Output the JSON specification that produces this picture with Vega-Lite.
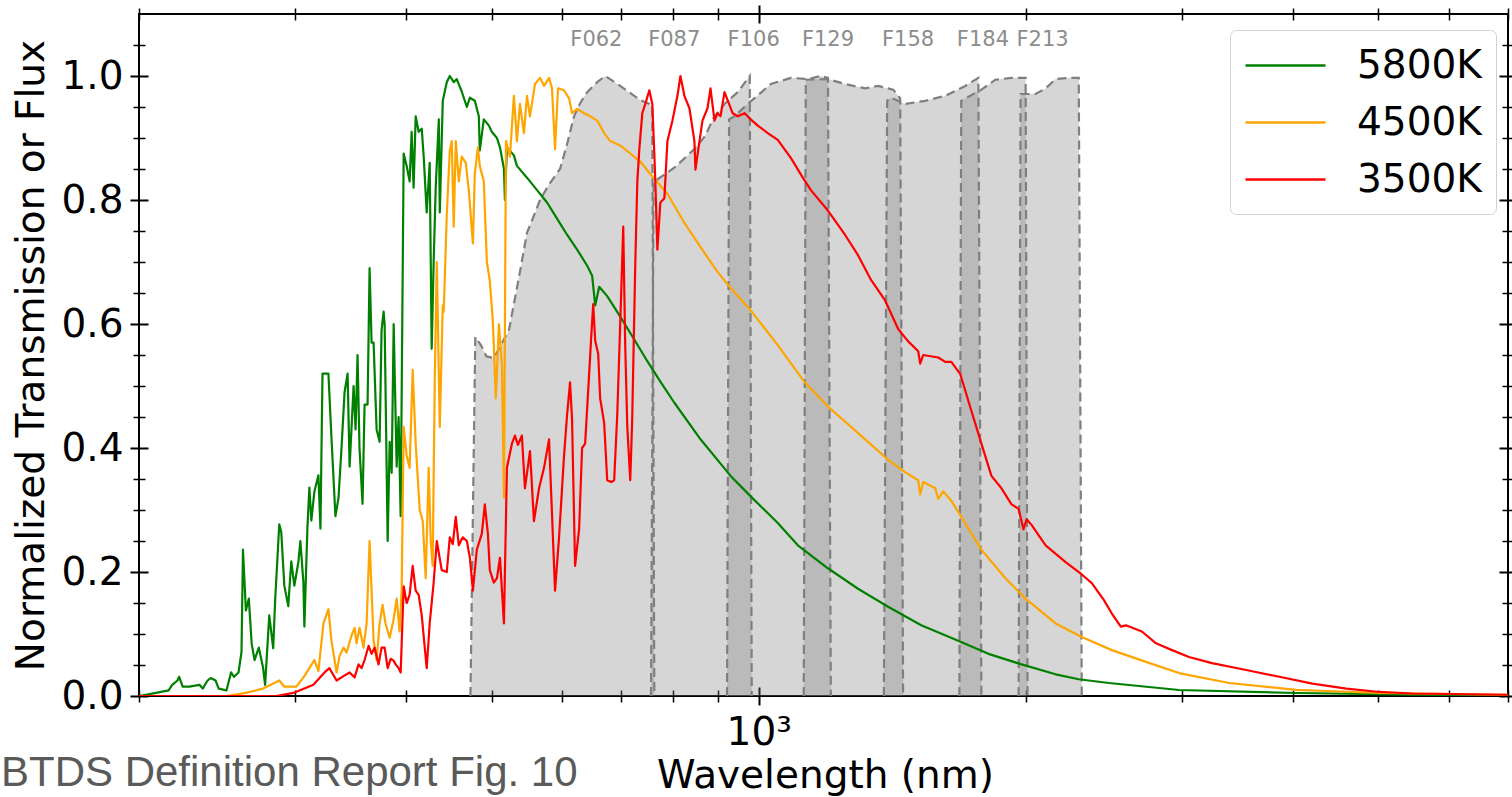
{
  "$schema": "https://vega.github.io/schema/vega-lite/v6.json",
  "width": 1369,
  "height": 682,
  "autosize": {"type": "none"},
  "padding": {"left": 139, "top": 14, "right": 4, "bottom": 101},
  "background": "white",
  "config": {
    "view": {"stroke": "black", "strokeWidth": 2},
    "font": "DejaVu Sans",
    "axis": {
      "domain": false, "grid": false, "tickColor": "black", "labelColor": "black",
      "titleColor": "black", "labelFont": "DejaVu Sans", "titleFont": "DejaVu Sans",
      "titleFontWeight": "normal", "labelFontSize": 39, "titleFontSize": 39
    }
  },
  "title": {
    "text": "BTDS Definition Report Fig. 10",
    "orient": "bottom", "anchor": "start", "frame": "bounds",
    "font": "Liberation Sans", "fontSize": 42, "fontWeight": "normal", "color": "#5a5a5a",
    "baseline": "alphabetic", "offset": 0, "dx": -11, "dy": -9
  },
  "resolve": {"axis": {"x": "independent", "y": "independent"}},
  "datasets": {
    "bands": [
      {"band": "F062", "w": 473, "t": 0}, {"band": "F062", "w": 479, "t": 0.579}, {"band": "F062", "w": 486, "t": 0.566},
      {"band": "F062", "w": 493, "t": 0.548}, {"band": "F062", "w": 502.6, "t": 0.545}, {"band": "F062", "w": 522.7, "t": 0.59},
      {"band": "F062", "w": 537.9, "t": 0.684}, {"band": "F062", "w": 547.8, "t": 0.747}, {"band": "F062", "w": 557.8, "t": 0.775},
      {"band": "F062", "w": 566.7, "t": 0.8}, {"band": "F062", "w": 580, "t": 0.825}, {"band": "F062", "w": 596.9, "t": 0.85},
      {"band": "F062", "w": 607.9, "t": 0.89}, {"band": "F062", "w": 619, "t": 0.935}, {"band": "F062", "w": 628.9, "t": 0.956},
      {"band": "F062", "w": 640.5, "t": 0.974}, {"band": "F062", "w": 657.4, "t": 0.99}, {"band": "F062", "w": 671.2, "t": 1.0},
      {"band": "F062", "w": 697.9, "t": 0.984}, {"band": "F062", "w": 735.3, "t": 0.961}, {"band": "F062", "w": 752.7, "t": 0.955},
      {"band": "F062", "w": 758.5, "t": 0.95}, {"band": "F062", "w": 762.5, "t": 0},
      {"band": "F087", "w": 756, "t": 0}, {"band": "F087", "w": 761, "t": 0.829}, {"band": "F087", "w": 803, "t": 0.852},
      {"band": "F087", "w": 846, "t": 0.882}, {"band": "F087", "w": 869, "t": 0.902}, {"band": "F087", "w": 891.5, "t": 0.935},
      {"band": "F087", "w": 915, "t": 0.955}, {"band": "F087", "w": 947, "t": 0.974}, {"band": "F087", "w": 977, "t": 1.0},
      {"band": "F087", "w": 982, "t": 0},
      {"band": "F106", "w": 921, "t": 0}, {"band": "F106", "w": 926, "t": 0.93}, {"band": "F106", "w": 939, "t": 0.935},
      {"band": "F106", "w": 972, "t": 0.955}, {"band": "F106", "w": 1032, "t": 0.987}, {"band": "F106", "w": 1087, "t": 0.997},
      {"band": "F106", "w": 1136, "t": 0.995}, {"band": "F106", "w": 1175, "t": 1.0}, {"band": "F106", "w": 1197, "t": 0.997},
      {"band": "F106", "w": 1206, "t": 0},
      {"band": "F129", "w": 1124, "t": 0}, {"band": "F129", "w": 1130, "t": 0.994}, {"band": "F129", "w": 1197, "t": 0.995},
      {"band": "F129", "w": 1251, "t": 0.987}, {"band": "F129", "w": 1318, "t": 0.98}, {"band": "F129", "w": 1363, "t": 0.984},
      {"band": "F129", "w": 1418, "t": 0.978}, {"band": "F129", "w": 1444, "t": 0.964}, {"band": "F129", "w": 1455, "t": 0},
      {"band": "F158", "w": 1384, "t": 0}, {"band": "F158", "w": 1396, "t": 0.96}, {"band": "F158", "w": 1410, "t": 0.965},
      {"band": "F158", "w": 1463, "t": 0.955}, {"band": "F158", "w": 1541, "t": 0.96}, {"band": "F158", "w": 1623, "t": 0.968},
      {"band": "F158", "w": 1710, "t": 0.984}, {"band": "F158", "w": 1769, "t": 0.997}, {"band": "F158", "w": 1783, "t": 0},
      {"band": "F184", "w": 1684, "t": 0}, {"band": "F184", "w": 1692, "t": 0.96}, {"band": "F184", "w": 1783, "t": 0.978},
      {"band": "F184", "w": 1849, "t": 0.994}, {"band": "F184", "w": 1928, "t": 0.997}, {"band": "F184", "w": 2000, "t": 0.997},
      {"band": "F184", "w": 2010, "t": 0},
      {"band": "F213", "w": 1964, "t": 0}, {"band": "F213", "w": 1974, "t": 0.971}, {"band": "F213", "w": 2052, "t": 0.971},
      {"band": "F213", "w": 2107, "t": 0.98}, {"band": "F213", "w": 2162, "t": 0.995}, {"band": "F213", "w": 2237, "t": 0.997},
      {"band": "F213", "w": 2296, "t": 0.997}, {"band": "F213", "w": 2314, "t": 0}
    ],
    "bandNames": [
      {"band": "F062", "w": 656, "t": 1.058}, {"band": "F087", "w": 803, "t": 1.058}, {"band": "F106", "w": 987, "t": 1.058},
      {"band": "F129", "w": 1197, "t": 1.058}, {"band": "F158", "w": 1474, "t": 1.058}, {"band": "F184", "w": 1790, "t": 1.058},
      {"band": "F213", "w": 2090, "t": 1.058}
    ],
    "spectra": [
      {"star": "5800K", "w": 200, "f": 0}, {"star": "5800K", "w": 209, "f": 0.005}, {"star": "5800K", "w": 216, "f": 0.009},
      {"star": "5800K", "w": 218, "f": 0.018}, {"star": "5800K", "w": 221, "f": 0.025}, {"star": "5800K", "w": 222, "f": 0.031},
      {"star": "5800K", "w": 224, "f": 0.015}, {"star": "5800K", "w": 228, "f": 0.015}, {"star": "5800K", "w": 234, "f": 0.018},
      {"star": "5800K", "w": 236, "f": 0.012}, {"star": "5800K", "w": 239, "f": 0.025}, {"star": "5800K", "w": 241, "f": 0.029},
      {"star": "5800K", "w": 244, "f": 0.025}, {"star": "5800K", "w": 246, "f": 0.012}, {"star": "5800K", "w": 251, "f": 0.009},
      {"star": "5800K", "w": 254, "f": 0.038}, {"star": "5800K", "w": 256, "f": 0.031}, {"star": "5800K", "w": 259, "f": 0.038},
      {"star": "5800K", "w": 261, "f": 0.071}, {"star": "5800K", "w": 262, "f": 0.236}, {"star": "5800K", "w": 264, "f": 0.138},
      {"star": "5800K", "w": 266, "f": 0.157}, {"star": "5800K", "w": 268, "f": 0.084}, {"star": "5800K", "w": 270, "f": 0.058},
      {"star": "5800K", "w": 273, "f": 0.078}, {"star": "5800K", "w": 276, "f": 0.046}, {"star": "5800K", "w": 277.5, "f": 0.018},
      {"star": "5800K", "w": 280.5, "f": 0.13}, {"star": "5800K", "w": 283.4, "f": 0.077}, {"star": "5800K", "w": 284.9, "f": 0.157},
      {"star": "5800K", "w": 287.9, "f": 0.277}, {"star": "5800K", "w": 289.4, "f": 0.264}, {"star": "5800K", "w": 291.7, "f": 0.178},
      {"star": "5800K", "w": 294.7, "f": 0.145}, {"star": "5800K", "w": 297, "f": 0.217}, {"star": "5800K", "w": 299.4, "f": 0.178},
      {"star": "5800K", "w": 302.6, "f": 0.217}, {"star": "5800K", "w": 304.1, "f": 0.25}, {"star": "5800K", "w": 306.5, "f": 0.184},
      {"star": "5800K", "w": 307.3, "f": 0.112}, {"star": "5800K", "w": 309.7, "f": 0.27}, {"star": "5800K", "w": 311.3, "f": 0.336},
      {"star": "5800K", "w": 312.9, "f": 0.283}, {"star": "5800K", "w": 315.4, "f": 0.33}, {"star": "5800K", "w": 318.7, "f": 0.356},
      {"star": "5800K", "w": 320.4, "f": 0.27}, {"star": "5800K", "w": 322.1, "f": 0.52}, {"star": "5800K", "w": 323.8, "f": 0.52},
      {"star": "5800K", "w": 327.1, "f": 0.52}, {"star": "5800K", "w": 329.6, "f": 0.42}, {"star": "5800K", "w": 333.1, "f": 0.29},
      {"star": "5800K", "w": 335.8, "f": 0.32}, {"star": "5800K", "w": 338.4, "f": 0.4}, {"star": "5800K", "w": 341.1, "f": 0.49},
      {"star": "5800K", "w": 343.8, "f": 0.52}, {"star": "5800K", "w": 345.6, "f": 0.37}, {"star": "5800K", "w": 349.2, "f": 0.5},
      {"star": "5800K", "w": 351, "f": 0.43}, {"star": "5800K", "w": 352.8, "f": 0.55}, {"star": "5800K", "w": 354.6, "f": 0.4},
      {"star": "5800K", "w": 357.4, "f": 0.31}, {"star": "5800K", "w": 359.3, "f": 0.47}, {"star": "5800K", "w": 362.1, "f": 0.47},
      {"star": "5800K", "w": 364, "f": 0.69}, {"star": "5800K", "w": 365.9, "f": 0.57}, {"star": "5800K", "w": 367.8, "f": 0.57},
      {"star": "5800K", "w": 370.7, "f": 0.43}, {"star": "5800K", "w": 373.6, "f": 0.41}, {"star": "5800K", "w": 375.5, "f": 0.59},
      {"star": "5800K", "w": 377.5, "f": 0.62}, {"star": "5800K", "w": 378.5, "f": 0.6}, {"star": "5800K", "w": 381.5, "f": 0.25},
      {"star": "5800K", "w": 383.5, "f": 0.41}, {"star": "5800K", "w": 385.5, "f": 0.36}, {"star": "5800K", "w": 387.5, "f": 0.6},
      {"star": "5800K", "w": 390.5, "f": 0.37}, {"star": "5800K", "w": 392.5, "f": 0.45}, {"star": "5800K", "w": 394.6, "f": 0.29},
      {"star": "5800K", "w": 397.7, "f": 0.875}, {"star": "5800K", "w": 400.8, "f": 0.855}, {"star": "5800K", "w": 403.9, "f": 0.83},
      {"star": "5800K", "w": 406, "f": 0.91}, {"star": "5800K", "w": 408.1, "f": 0.82}, {"star": "5800K", "w": 410.3, "f": 0.935},
      {"star": "5800K", "w": 413.5, "f": 0.91}, {"star": "5800K", "w": 416.8, "f": 0.915}, {"star": "5800K", "w": 418.9, "f": 0.87},
      {"star": "5800K", "w": 422.2, "f": 0.78}, {"star": "5800K", "w": 425.5, "f": 0.86}, {"star": "5800K", "w": 427.7, "f": 0.56},
      {"star": "5800K", "w": 429.9, "f": 0.7}, {"star": "5800K", "w": 432.2, "f": 0.82}, {"star": "5800K", "w": 435.7, "f": 0.93},
      {"star": "5800K", "w": 436.8, "f": 0.78}, {"star": "5800K", "w": 440.2, "f": 0.96}, {"star": "5800K", "w": 444.8, "f": 0.99},
      {"star": "5800K", "w": 448.3, "f": 1.0}, {"star": "5800K", "w": 452.9, "f": 0.99}, {"star": "5800K", "w": 456.5, "f": 0.995},
      {"star": "5800K", "w": 462.4, "f": 0.975}, {"star": "5800K", "w": 468.6, "f": 0.95}, {"star": "5800K", "w": 472.3, "f": 0.965},
      {"star": "5800K", "w": 478.4, "f": 0.96}, {"star": "5800K", "w": 483.4, "f": 0.935}, {"star": "5800K", "w": 484.6, "f": 0.88},
      {"star": "5800K", "w": 489.7, "f": 0.93}, {"star": "5800K", "w": 496.2, "f": 0.92}, {"star": "5800K", "w": 500, "f": 0.91},
      {"star": "5800K", "w": 506.7, "f": 0.9}, {"star": "5800K", "w": 510.7, "f": 0.885}, {"star": "5800K", "w": 516, "f": 0.85},
      {"star": "5800K", "w": 517.3, "f": 0.8}, {"star": "5800K", "w": 520, "f": 0.885}, {"star": "5800K", "w": 529.5, "f": 0.872},
      {"star": "5800K", "w": 533.7, "f": 0.855}, {"star": "5800K", "w": 547.8, "f": 0.836}, {"star": "5800K", "w": 562.3, "f": 0.816},
      {"star": "5800K", "w": 577.1, "f": 0.796}, {"star": "5800K", "w": 592.3, "f": 0.77}, {"star": "5800K", "w": 607.9, "f": 0.744},
      {"star": "5800K", "w": 624, "f": 0.72}, {"star": "5800K", "w": 640.5, "f": 0.694}, {"star": "5800K", "w": 648.8, "f": 0.678},
      {"star": "5800K", "w": 654, "f": 0.63}, {"star": "5800K", "w": 660.8, "f": 0.66}, {"star": "5800K", "w": 674.7, "f": 0.645},
      {"star": "5800K", "w": 697.9, "f": 0.612}, {"star": "5800K", "w": 723.8, "f": 0.575}, {"star": "5800K", "w": 748.8, "f": 0.54},
      {"star": "5800K", "w": 774.6, "f": 0.507}, {"star": "5800K", "w": 803.3, "f": 0.473}, {"star": "5800K", "w": 859.7, "f": 0.414},
      {"star": "5800K", "w": 929.6, "f": 0.355}, {"star": "5800K", "w": 979.4, "f": 0.322}, {"star": "5800K", "w": 1050.7, "f": 0.279},
      {"star": "5800K", "w": 1106.9, "f": 0.243}, {"star": "5800K", "w": 1196.8, "f": 0.206}, {"star": "5800K", "w": 1294.2, "f": 0.173},
      {"star": "5800K", "w": 1399.4, "f": 0.144}, {"star": "5800K", "w": 1525, "f": 0.114}, {"star": "5800K", "w": 1666, "f": 0.091},
      {"star": "5800K", "w": 1816, "f": 0.068}, {"star": "5800K", "w": 1979, "f": 0.051}, {"star": "5800K", "w": 2162, "f": 0.035},
      {"star": "5800K", "w": 2296, "f": 0.027}, {"star": "5800K", "w": 2483, "f": 0.021}, {"star": "5800K", "w": 2979, "f": 0.0097},
      {"star": "5800K", "w": 4039, "f": 0.0048}, {"star": "5800K", "w": 5466, "f": 0.0022}, {"star": "5800K", "w": 7000, "f": 0.001},

      {"star": "4500K", "w": 200, "f": 0}, {"star": "4500K", "w": 251, "f": 0}, {"star": "4500K", "w": 264, "f": 0.005},
      {"star": "4500K", "w": 276, "f": 0.012}, {"star": "4500K", "w": 288, "f": 0.025}, {"star": "4500K", "w": 291.7, "f": 0.015},
      {"star": "4500K", "w": 301, "f": 0.015}, {"star": "4500K", "w": 307.3, "f": 0.032}, {"star": "4500K", "w": 311.3, "f": 0.045},
      {"star": "4500K", "w": 315.4, "f": 0.058}, {"star": "4500K", "w": 318.7, "f": 0.04}, {"star": "4500K", "w": 322.9, "f": 0.117},
      {"star": "4500K", "w": 327.1, "f": 0.14}, {"star": "4500K", "w": 329.6, "f": 0.09}, {"star": "4500K", "w": 334.1, "f": 0.038},
      {"star": "4500K", "w": 336.7, "f": 0.065}, {"star": "4500K", "w": 340.2, "f": 0.078}, {"star": "4500K", "w": 342.9, "f": 0.07},
      {"star": "4500K", "w": 347.4, "f": 0.098}, {"star": "4500K", "w": 350.1, "f": 0.11}, {"star": "4500K", "w": 351.9, "f": 0.085},
      {"star": "4500K", "w": 354.6, "f": 0.11}, {"star": "4500K", "w": 358.3, "f": 0.078}, {"star": "4500K", "w": 361.2, "f": 0.117},
      {"star": "4500K", "w": 364, "f": 0.25}, {"star": "4500K", "w": 365.9, "f": 0.17}, {"star": "4500K", "w": 367.8, "f": 0.09},
      {"star": "4500K", "w": 370.7, "f": 0.058}, {"star": "4500K", "w": 373.6, "f": 0.117}, {"star": "4500K", "w": 376.5, "f": 0.147},
      {"star": "4500K", "w": 379.4, "f": 0.117}, {"star": "4500K", "w": 383.5, "f": 0.094}, {"star": "4500K", "w": 387.5, "f": 0.124},
      {"star": "4500K", "w": 390.5, "f": 0.157}, {"star": "4500K", "w": 393.5, "f": 0.104}, {"star": "4500K", "w": 395.6, "f": 0.17},
      {"star": "4500K", "w": 397.7, "f": 0.434}, {"star": "4500K", "w": 400.8, "f": 0.388}, {"star": "4500K", "w": 403.9, "f": 0.368},
      {"star": "4500K", "w": 407.1, "f": 0.526}, {"star": "4500K", "w": 410.3, "f": 0.407}, {"star": "4500K", "w": 414.6, "f": 0.3},
      {"star": "4500K", "w": 417.9, "f": 0.282}, {"star": "4500K", "w": 421.1, "f": 0.19}, {"star": "4500K", "w": 424.4, "f": 0.368},
      {"star": "4500K", "w": 426.6, "f": 0.25}, {"star": "4500K", "w": 428.8, "f": 0.21}, {"star": "4500K", "w": 431.1, "f": 0.506},
      {"star": "4500K", "w": 433.4, "f": 0.7}, {"star": "4500K", "w": 436.8, "f": 0.434}, {"star": "4500K", "w": 440.2, "f": 0.63},
      {"star": "4500K", "w": 441.3, "f": 0.62}, {"star": "4500K", "w": 444.8, "f": 0.777}, {"star": "4500K", "w": 448.3, "f": 0.88},
      {"star": "4500K", "w": 450.6, "f": 0.895}, {"star": "4500K", "w": 452.9, "f": 0.757}, {"star": "4500K", "w": 455.3, "f": 0.895},
      {"star": "4500K", "w": 458.9, "f": 0.83}, {"star": "4500K", "w": 462.4, "f": 0.87}, {"star": "4500K", "w": 467.3, "f": 0.86},
      {"star": "4500K", "w": 471, "f": 0.816}, {"star": "4500K", "w": 476, "f": 0.73}, {"star": "4500K", "w": 478.4, "f": 0.842},
      {"star": "4500K", "w": 482.2, "f": 0.885}, {"star": "4500K", "w": 484.6, "f": 0.855}, {"star": "4500K", "w": 489.7, "f": 0.83},
      {"star": "4500K", "w": 493.6, "f": 0.7}, {"star": "4500K", "w": 497.4, "f": 0.67}, {"star": "4500K", "w": 501.3, "f": 0.605},
      {"star": "4500K", "w": 505.2, "f": 0.48}, {"star": "4500K", "w": 509.3, "f": 0.6}, {"star": "4500K", "w": 513.3, "f": 0.533},
      {"star": "4500K", "w": 516, "f": 0.32}, {"star": "4500K", "w": 518.7, "f": 0.895}, {"star": "4500K", "w": 524.1, "f": 0.87},
      {"star": "4500K", "w": 529.5, "f": 0.968}, {"star": "4500K", "w": 533.7, "f": 0.895}, {"star": "4500K", "w": 537.9, "f": 0.955},
      {"star": "4500K", "w": 543.5, "f": 0.908}, {"star": "4500K", "w": 547.8, "f": 0.968}, {"star": "4500K", "w": 552.1, "f": 0.935},
      {"star": "4500K", "w": 559.3, "f": 0.987}, {"star": "4500K", "w": 566.7, "f": 0.997}, {"star": "4500K", "w": 572.6, "f": 0.984},
      {"star": "4500K", "w": 580.1, "f": 0.997}, {"star": "4500K", "w": 584.6, "f": 0.98}, {"star": "4500K", "w": 589.2, "f": 0.882},
      {"star": "4500K", "w": 593.8, "f": 0.98}, {"star": "4500K", "w": 603.1, "f": 0.977}, {"star": "4500K", "w": 611.1, "f": 0.964},
      {"star": "4500K", "w": 615.8, "f": 0.94}, {"star": "4500K", "w": 624, "f": 0.947}, {"star": "4500K", "w": 635.4, "f": 0.94},
      {"star": "4500K", "w": 645.5, "f": 0.935}, {"star": "4500K", "w": 657.4, "f": 0.928}, {"star": "4500K", "w": 669.4, "f": 0.908},
      {"star": "4500K", "w": 680, "f": 0.895}, {"star": "4500K", "w": 697.9, "f": 0.888}, {"star": "4500K", "w": 716.3, "f": 0.875},
      {"star": "4500K", "w": 735.3, "f": 0.862}, {"star": "4500K", "w": 754.6, "f": 0.842}, {"star": "4500K", "w": 774.6, "f": 0.823},
      {"star": "4500K", "w": 788.9, "f": 0.81}, {"star": "4500K", "w": 824.5, "f": 0.763}, {"star": "4500K", "w": 859.7, "f": 0.724},
      {"star": "4500K", "w": 898.6, "f": 0.684}, {"star": "4500K", "w": 929.6, "f": 0.658}, {"star": "4500K", "w": 979.4, "f": 0.622},
      {"star": "4500K", "w": 1050.7, "f": 0.566}, {"star": "4500K", "w": 1127, "f": 0.506}, {"star": "4500K", "w": 1196.8, "f": 0.467},
      {"star": "4500K", "w": 1304, "f": 0.42}, {"star": "4500K", "w": 1399.4, "f": 0.381}, {"star": "4500K", "w": 1462.7, "f": 0.361},
      {"star": "4500K", "w": 1513, "f": 0.348}, {"star": "4500K", "w": 1521, "f": 0.325}, {"star": "4500K", "w": 1533, "f": 0.345},
      {"star": "4500K", "w": 1581.6, "f": 0.335}, {"star": "4500K", "w": 1594, "f": 0.318}, {"star": "4500K", "w": 1615, "f": 0.33},
      {"star": "4500K", "w": 1649, "f": 0.315}, {"star": "4500K", "w": 1692.5, "f": 0.289}, {"star": "4500K", "w": 1783, "f": 0.236},
      {"star": "4500K", "w": 1898, "f": 0.19}, {"star": "4500K", "w": 1999.7, "f": 0.157}, {"star": "4500K", "w": 2162, "f": 0.117},
      {"star": "4500K", "w": 2314, "f": 0.095}, {"star": "4500K", "w": 2502, "f": 0.074}, {"star": "4500K", "w": 2733, "f": 0.055},
      {"star": "4500K", "w": 2979, "f": 0.037}, {"star": "4500K", "w": 3393, "f": 0.021}, {"star": "4500K", "w": 4039, "f": 0.01},
      {"star": "4500K", "w": 5014, "f": 0.0048}, {"star": "4500K", "w": 7000, "f": 0.002},

      {"star": "3500K", "w": 200, "f": 0}, {"star": "3500K", "w": 285.7, "f": 0}, {"star": "3500K", "w": 298.6, "f": 0.005},
      {"star": "3500K", "w": 314.6, "f": 0.018}, {"star": "3500K", "w": 323.8, "f": 0.038}, {"star": "3500K", "w": 327.9, "f": 0.045},
      {"star": "3500K", "w": 334.1, "f": 0.025}, {"star": "3500K", "w": 340.2, "f": 0.032}, {"star": "3500K", "w": 345.6, "f": 0.038},
      {"star": "3500K", "w": 350.1, "f": 0.03}, {"star": "3500K", "w": 353.7, "f": 0.051}, {"star": "3500K", "w": 356.5, "f": 0.045},
      {"star": "3500K", "w": 359.3, "f": 0.058}, {"star": "3500K", "w": 363.1, "f": 0.081}, {"star": "3500K", "w": 365.9, "f": 0.068},
      {"star": "3500K", "w": 368.8, "f": 0.078}, {"star": "3500K", "w": 372.6, "f": 0.051}, {"star": "3500K", "w": 375.5, "f": 0.078},
      {"star": "3500K", "w": 378.5, "f": 0.078}, {"star": "3500K", "w": 381.5, "f": 0.045}, {"star": "3500K", "w": 384.5, "f": 0.06},
      {"star": "3500K", "w": 387.5, "f": 0.057}, {"star": "3500K", "w": 389.5, "f": 0.051}, {"star": "3500K", "w": 392.5, "f": 0.045},
      {"star": "3500K", "w": 394.6, "f": 0.038}, {"star": "3500K", "w": 397.7, "f": 0.177}, {"star": "3500K", "w": 400.8, "f": 0.15},
      {"star": "3500K", "w": 403.9, "f": 0.163}, {"star": "3500K", "w": 407.1, "f": 0.21}, {"star": "3500K", "w": 410.3, "f": 0.17},
      {"star": "3500K", "w": 413.5, "f": 0.163}, {"star": "3500K", "w": 416.8, "f": 0.13}, {"star": "3500K", "w": 422.2, "f": 0.045},
      {"star": "3500K", "w": 425.5, "f": 0.117}, {"star": "3500K", "w": 429.9, "f": 0.183}, {"star": "3500K", "w": 433.4, "f": 0.25},
      {"star": "3500K", "w": 439, "f": 0.203}, {"star": "3500K", "w": 444.8, "f": 0.2}, {"star": "3500K", "w": 448.3, "f": 0.256},
      {"star": "3500K", "w": 451.8, "f": 0.245}, {"star": "3500K", "w": 455.3, "f": 0.289}, {"star": "3500K", "w": 458.9, "f": 0.243},
      {"star": "3500K", "w": 463.7, "f": 0.256}, {"star": "3500K", "w": 468.6, "f": 0.25}, {"star": "3500K", "w": 472.3, "f": 0.223},
      {"star": "3500K", "w": 476, "f": 0.17}, {"star": "3500K", "w": 480.9, "f": 0.236}, {"star": "3500K", "w": 487.2, "f": 0.262},
      {"star": "3500K", "w": 491, "f": 0.309}, {"star": "3500K", "w": 494.9, "f": 0.262}, {"star": "3500K", "w": 497.4, "f": 0.203},
      {"star": "3500K", "w": 502.6, "f": 0.183}, {"star": "3500K", "w": 506.7, "f": 0.19}, {"star": "3500K", "w": 510.7, "f": 0.223},
      {"star": "3500K", "w": 516, "f": 0.117}, {"star": "3500K", "w": 520, "f": 0.368}, {"star": "3500K", "w": 526.8, "f": 0.407},
      {"star": "3500K", "w": 530.9, "f": 0.42}, {"star": "3500K", "w": 535.1, "f": 0.405}, {"star": "3500K", "w": 540.6, "f": 0.42},
      {"star": "3500K", "w": 544.9, "f": 0.335}, {"star": "3500K", "w": 552.1, "f": 0.395}, {"star": "3500K", "w": 557.8, "f": 0.282},
      {"star": "3500K", "w": 565.2, "f": 0.335}, {"star": "3500K", "w": 572.6, "f": 0.368}, {"star": "3500K", "w": 580.1, "f": 0.414},
      {"star": "3500K", "w": 589.2, "f": 0.17}, {"star": "3500K", "w": 595.4, "f": 0.256}, {"star": "3500K", "w": 603.1, "f": 0.387},
      {"star": "3500K", "w": 607.9, "f": 0.453}, {"star": "3500K", "w": 612.6, "f": 0.506}, {"star": "3500K", "w": 615.8, "f": 0.447},
      {"star": "3500K", "w": 620.7, "f": 0.21}, {"star": "3500K", "w": 627.2, "f": 0.269}, {"star": "3500K", "w": 632.1, "f": 0.4},
      {"star": "3500K", "w": 637.1, "f": 0.407}, {"star": "3500K", "w": 643.8, "f": 0.52}, {"star": "3500K", "w": 647.2, "f": 0.578},
      {"star": "3500K", "w": 650.6, "f": 0.632}, {"star": "3500K", "w": 654, "f": 0.573}, {"star": "3500K", "w": 659.1, "f": 0.552},
      {"star": "3500K", "w": 662.5, "f": 0.48}, {"star": "3500K", "w": 669.4, "f": 0.44}, {"star": "3500K", "w": 674.7, "f": 0.348},
      {"star": "3500K", "w": 681.7, "f": 0.345}, {"star": "3500K", "w": 687, "f": 0.348}, {"star": "3500K", "w": 692.5, "f": 0.453},
      {"star": "3500K", "w": 697.9, "f": 0.6}, {"star": "3500K", "w": 703.4, "f": 0.757}, {"star": "3500K", "w": 707, "f": 0.566},
      {"star": "3500K", "w": 710.8, "f": 0.434}, {"star": "3500K", "w": 716.3, "f": 0.348}, {"star": "3500K", "w": 720, "f": 0.447},
      {"star": "3500K", "w": 725.7, "f": 0.697}, {"star": "3500K", "w": 729.6, "f": 0.83}, {"star": "3500K", "w": 733.4, "f": 0.882},
      {"star": "3500K", "w": 739.1, "f": 0.94}, {"star": "3500K", "w": 744.9, "f": 0.955}, {"star": "3500K", "w": 752.7, "f": 0.977},
      {"star": "3500K", "w": 758.5, "f": 0.955}, {"star": "3500K", "w": 762.5, "f": 0.875}, {"star": "3500K", "w": 764.5, "f": 0.83},
      {"star": "3500K", "w": 768.6, "f": 0.72}, {"star": "3500K", "w": 774.6, "f": 0.796}, {"star": "3500K", "w": 782.7, "f": 0.803},
      {"star": "3500K", "w": 788.9, "f": 0.895}, {"star": "3500K", "w": 799.2, "f": 0.928}, {"star": "3500K", "w": 809.7, "f": 0.968},
      {"star": "3500K", "w": 816, "f": 1.0}, {"star": "3500K", "w": 824.5, "f": 0.968}, {"star": "3500K", "w": 835.3, "f": 0.948},
      {"star": "3500K", "w": 846.2, "f": 0.895}, {"star": "3500K", "w": 848.5, "f": 0.849}, {"star": "3500K", "w": 857.4, "f": 0.895},
      {"star": "3500K", "w": 864.1, "f": 0.928}, {"star": "3500K", "w": 875.5, "f": 0.948}, {"star": "3500K", "w": 882.3, "f": 0.98},
      {"star": "3500K", "w": 891.5, "f": 0.928}, {"star": "3500K", "w": 898.6, "f": 0.94}, {"star": "3500K", "w": 905.6, "f": 0.935},
      {"star": "3500K", "w": 915, "f": 0.974}, {"star": "3500K", "w": 922.4, "f": 0.961}, {"star": "3500K", "w": 934.4, "f": 0.94},
      {"star": "3500K", "w": 946.8, "f": 0.935}, {"star": "3500K", "w": 964.1, "f": 0.94}, {"star": "3500K", "w": 979.4, "f": 0.93},
      {"star": "3500K", "w": 997.5, "f": 0.92}, {"star": "3500K", "w": 1023.8, "f": 0.908}, {"star": "3500K", "w": 1050.7, "f": 0.897},
      {"star": "3500K", "w": 1086.9, "f": 0.868}, {"star": "3500K", "w": 1121.3, "f": 0.836}, {"star": "3500K", "w": 1145, "f": 0.816},
      {"star": "3500K", "w": 1196.8, "f": 0.783}, {"star": "3500K", "w": 1251, "f": 0.744}, {"star": "3500K", "w": 1294.2, "f": 0.711},
      {"star": "3500K", "w": 1338.7, "f": 0.671}, {"star": "3500K", "w": 1388.4, "f": 0.638}, {"star": "3500K", "w": 1436.4, "f": 0.592},
      {"star": "3500K", "w": 1474.3, "f": 0.572}, {"star": "3500K", "w": 1513.2, "f": 0.556}, {"star": "3500K", "w": 1521, "f": 0.536},
      {"star": "3500K", "w": 1533, "f": 0.55}, {"star": "3500K", "w": 1594, "f": 0.546}, {"star": "3500K", "w": 1623, "f": 0.539},
      {"star": "3500K", "w": 1649, "f": 0.539}, {"star": "3500K", "w": 1688, "f": 0.519}, {"star": "3500K", "w": 1737, "f": 0.46},
      {"star": "3500K", "w": 1783, "f": 0.407}, {"star": "3500K", "w": 1830, "f": 0.355}, {"star": "3500K", "w": 1878.5, "f": 0.335},
      {"star": "3500K", "w": 1928, "f": 0.309}, {"star": "3500K", "w": 1963.7, "f": 0.302}, {"star": "3500K", "w": 1989, "f": 0.269},
      {"star": "3500K", "w": 2005, "f": 0.285}, {"star": "3500K", "w": 2031, "f": 0.276}, {"star": "3500K", "w": 2106.6, "f": 0.243},
      {"star": "3500K", "w": 2219, "f": 0.216}, {"star": "3500K", "w": 2314, "f": 0.196}, {"star": "3500K", "w": 2375, "f": 0.182},
      {"star": "3500K", "w": 2450, "f": 0.155}, {"star": "3500K", "w": 2502, "f": 0.133}, {"star": "3500K", "w": 2561, "f": 0.112},
      {"star": "3500K", "w": 2595, "f": 0.114}, {"star": "3500K", "w": 2705, "f": 0.104}, {"star": "3500K", "w": 2806, "f": 0.085},
      {"star": "3500K", "w": 2925, "f": 0.074}, {"star": "3500K", "w": 3057, "f": 0.063}, {"star": "3500K", "w": 3245, "f": 0.053},
      {"star": "3500K", "w": 3547, "f": 0.042}, {"star": "3500K", "w": 3865, "f": 0.031}, {"star": "3500K", "w": 4212, "f": 0.02},
      {"star": "3500K", "w": 4602, "f": 0.012}, {"star": "3500K", "w": 5014, "f": 0.0065}, {"star": "3500K", "w": 5466, "f": 0.004},
      {"star": "3500K", "w": 7000, "f": 0.002}
    ]
  },
  "layer": [
    {
      "data": {"name": "bands"},
      "mark": {"type": "area", "fill": "#808080", "fillOpacity": 0.32, "clip": true},
      "encoding": {
        "x": {
          "field": "w", "type": "quantitative",
          "scale": {"type": "log", "domain": [200, 7000], "nice": false},
          "axis": {
            "orient": "bottom", "values": [1000], "labelExpr": "'10³'",
            "tickSize": 18, "offset": -9, "tickWidth": 2, "labelPadding": 8,
            "title": "Wavelength (nm)", "titleY": 88, "titleX": 686, "titleBaseline": "middle"
          }
        },
        "y": {
          "field": "t", "type": "quantitative", "stack": null,
          "scale": {"domain": [0, 1.1], "nice": false},
          "axis": {
            "orient": "left", "values": [0, 0.2, 0.4, 0.6, 0.8, 1.0], "format": ".1f",
            "tickSize": 18, "offset": -9, "tickWidth": 2, "labelPadding": 7,
            "title": "Normalized Transmission or Flux", "titleX": -117, "titleY": 341,
            "titleBaseline": "middle", "titleAlign": "center", "titleAngle": -90
          }
        },
        "detail": {"field": "band"}
      }
    },
    {
      "data": {"name": "bands"},
      "mark": {"type": "line", "color": "#7f7f7f", "strokeWidth": 2.2, "strokeDash": [9, 5], "clip": true},
      "encoding": {
        "x": {
          "field": "w", "type": "quantitative",
          "scale": {"type": "log", "domain": [200, 7000], "nice": false},
          "axis": {
            "orient": "bottom", "values": [200, 300, 400, 500, 600, 700, 800, 900, 2000, 3000, 4000, 5000, 6000, 7000],
            "labels": false, "tickSize": 12, "offset": -6, "tickWidth": 1.5, "title": null
          }
        },
        "y": {
          "field": "t", "type": "quantitative",
          "scale": {"domain": [0, 1.1], "nice": false},
          "axis": {
            "orient": "left", "values": [0.05, 0.1, 0.15, 0.25, 0.3, 0.35, 0.45, 0.5, 0.55, 0.65, 0.7, 0.75, 0.85, 0.9, 0.95, 1.05],
            "labels": false, "tickSize": 12, "offset": -6, "tickWidth": 1.5, "title": null
          }
        },
        "detail": {"field": "band"}
      }
    },
    {
      "data": {"name": "spectra"},
      "mark": {"type": "line", "strokeWidth": 2.2, "strokeJoin": "round", "clip": true},
      "encoding": {
        "x": {
          "field": "w", "type": "quantitative",
          "scale": {"type": "log", "domain": [200, 7000], "nice": false},
          "axis": {"orient": "top", "values": [1000], "labels": false, "tickSize": 18, "offset": -9, "tickWidth": 2, "title": null}
        },
        "y": {
          "field": "f", "type": "quantitative",
          "scale": {"domain": [0, 1.1], "nice": false},
          "axis": {"orient": "right", "values": [0, 0.2, 0.4, 0.6, 0.8, 1.0], "labels": false, "tickSize": 18, "offset": -9, "tickWidth": 2, "title": null}
        },
        "color": {
          "field": "star", "type": "nominal",
          "scale": {"domain": ["5800K", "4500K", "3500K"], "range": ["green", "orange", "red"]},
          "legend": {
            "title": null, "orient": "none", "legendX": 1091, "legendY": 16,
            "symbolType": "M-2,0H2", "symbolSize": 1600, "symbolOffset": 20, "symbolStrokeWidth": 2.5,
            "labelFontSize": 39, "labelFont": "DejaVu Sans", "labelColor": "black", "labelOffset": 50,
            "rowPadding": 15, "padding": 14, "strokeColor": "#d0d0d0", "cornerRadius": 6, "fillColor": "white"
          }
        }
      }
    },
    {
      "data": {"name": "bandNames"},
      "mark": {"type": "text", "fontSize": 21, "color": "#8c8c8c", "baseline": "middle", "align": "center"},
      "encoding": {
        "x": {
          "field": "w", "type": "quantitative",
          "scale": {"type": "log", "domain": [200, 7000], "nice": false},
          "axis": {
            "orient": "top", "values": [200, 300, 400, 500, 600, 700, 800, 900, 2000, 3000, 4000, 5000, 6000, 7000],
            "labels": false, "tickSize": 12, "offset": -6, "tickWidth": 1.5, "title": null
          }
        },
        "y": {
          "field": "t", "type": "quantitative",
          "scale": {"domain": [0, 1.1], "nice": false},
          "axis": {
            "orient": "right", "values": [0.05, 0.1, 0.15, 0.25, 0.3, 0.35, 0.45, 0.5, 0.55, 0.65, 0.7, 0.75, 0.85, 0.9, 0.95, 1.05],
            "labels": false, "tickSize": 12, "offset": -6, "tickWidth": 1.5, "title": null
          }
        },
        "text": {"field": "band"}
      }
    }
  ]
}
